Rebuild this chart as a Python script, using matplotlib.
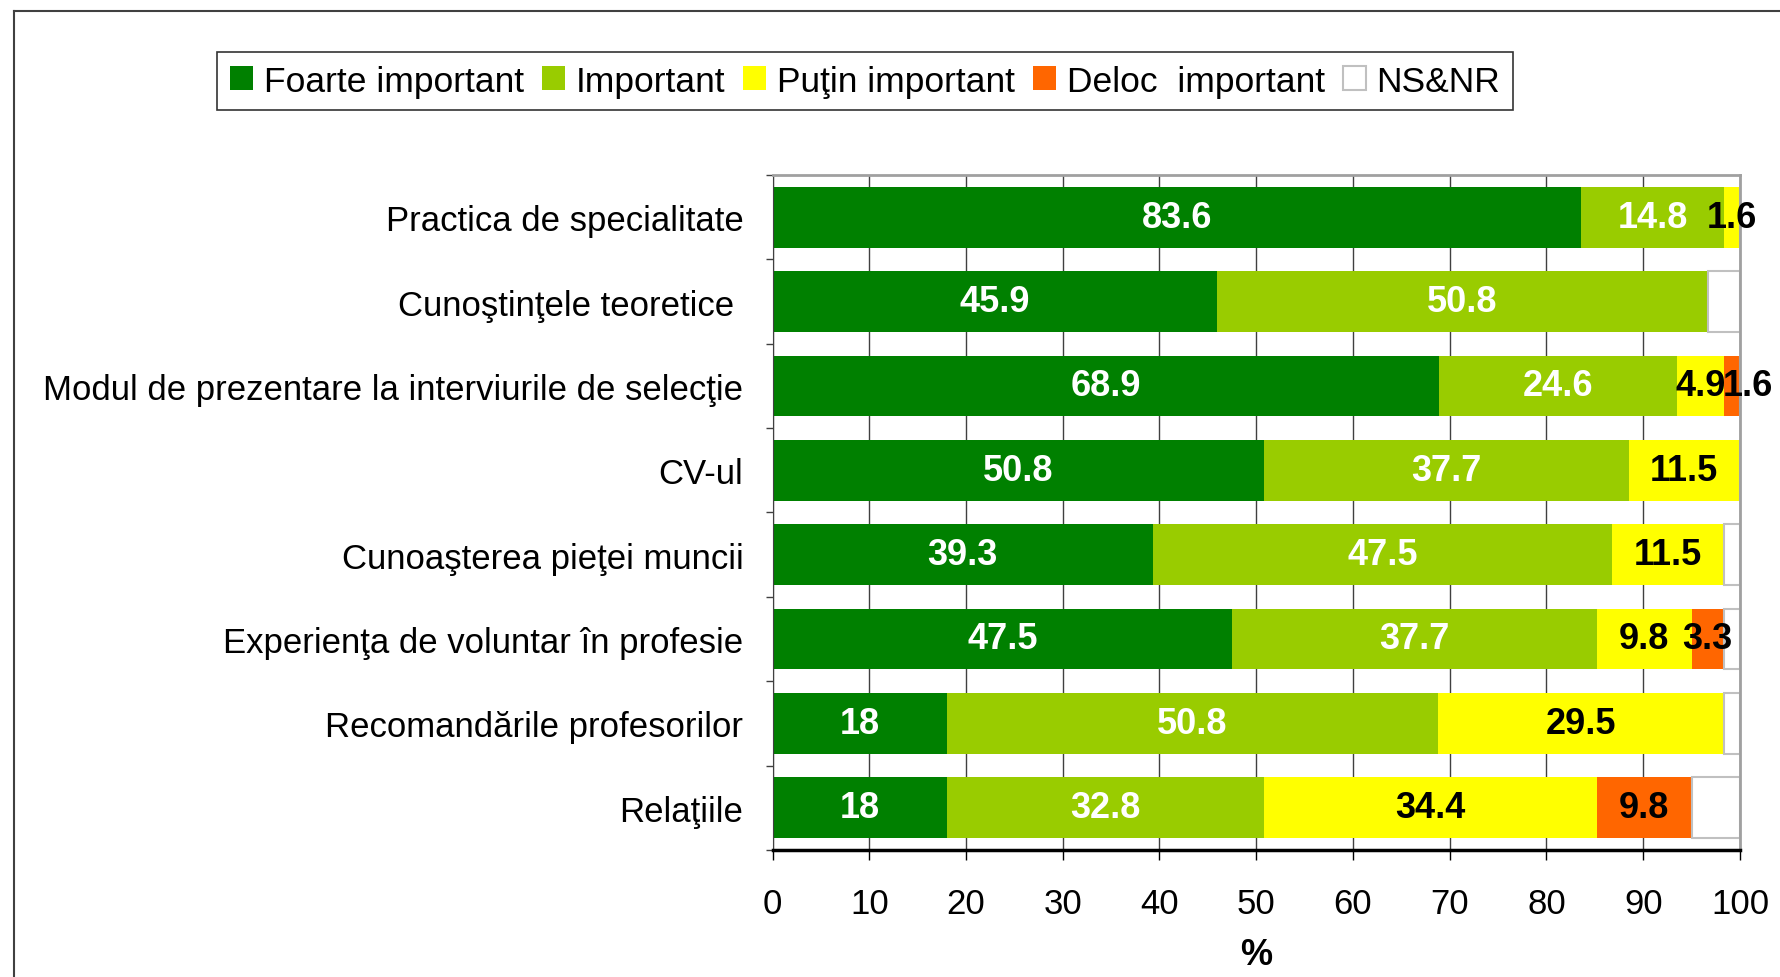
import numpy as np
import matplotlib.pyplot as plt
from matplotlib.lines import Line2D

plt.rcParams['font.family'] = ['Liberation Sans', 'DejaVu Sans']

cats = ['Practica de specialitate', 'Cunoştinţele teoretice ',
        'Modul de prezentare la interviurile de selecţie', 'CV-ul',
        'Cunoaşterea pieţei muncii', 'Experienţa de voluntar în profesie',
        'Recomandările profesorilor', 'Relaţiile']
foarte = [83.6, 45.9, 68.9, 50.8, 39.3, 47.5, 18, 18]
important = [14.8, 50.8, 24.6, 37.7, 47.5, 37.7, 50.8, 32.8]
putin = [1.6, 0, 4.9, 11.5, 11.5, 9.8, 29.5, 34.4]
deloc = [0, 0, 1.6, 0, 0, 3.3, 0, 9.8]
nsnr = [0, 3.3, 0, 0, 1.7, 1.7, 1.7, 5.0]

series = [foarte, important, putin, deloc, nsnr]
names = ['Foarte important', 'Important', 'Puţin important', 'Deloc  important', 'NS&NR']
colors = ['#008000', '#99CC00', '#FFFF00', '#FF6600', 'white']
txtcol = ['white', 'white', 'black', 'black', None]

fig = plt.figure(figsize=(17.8, 9.78), dpi=100)
ax = fig.add_axes([0.434, 0.130, 0.5435, 0.690])

y = np.arange(len(cats))
left = np.zeros(len(cats))
prev = np.full(len(cats), 100.0)
handles = []
for i, vals in enumerate(series):
    vals = np.array(vals, dtype=float)
    if i == 4:
        b = ax.barh(y, vals, left=left, height=0.72, color=colors[i],
                    edgecolor='#c0c0c0', linewidth=1.5, zorder=2)
    else:
        b = ax.barh(y, vals, left=left, height=0.72, color=colors[i],
                    linewidth=0, zorder=2)
    handles.append(b)
    if txtcol[i] is not None:
        for k in range(len(cats)):
            if vals[k] > 0:
                # small label squeezed after another small one gets nudged right
                dx = 11 if (vals[k] < 2 and prev[k] < 6) else 0
                ax.annotate('%g' % vals[k], (left[k] + vals[k] / 2, y[k]),
                            xytext=(dx, 0), textcoords='offset points',
                            ha='center', va='center', fontsize=26,
                            fontweight='bold', color=txtcol[i], zorder=3)
    prev = np.where(vals > 0, vals, prev)
    left += vals

ax.set_xlim(0, 100)
ax.set_ylim(7.5, -0.5)
ax.set_xticks(np.arange(0, 101, 10))
ax.set_yticks(y, cats)
ax.set_yticks(np.arange(-0.5, 8, 1), minor=True)
ax.tick_params(axis='y', which='major', length=0, pad=21, labelsize=25)
ax.tick_params(axis='y', which='minor', length=5, width=1, color='#404040')
ax.tick_params(axis='x', length=7, width=1, pad=20, labelsize=25)

ax.grid(axis='x', color='#404040', linewidth=1, zorder=0)
ax.set_axisbelow(True)
ax.spines['top'].set_color('#a0a0a0')
ax.spines['right'].set_color('#a0a0a0')
ax.spines['right'].set_linewidth(2)
ax.spines['top'].set_linewidth(2)
ax.spines['left'].set_color('#404040')
ax.spines['bottom'].set_linewidth(2.5)

ax.set_xlabel('%', fontsize=26, fontweight='bold', labelpad=12)

leg = fig.legend(handles, names, loc='center', bbox_to_anchor=(0.486, 0.916),
                 ncol=5, fontsize=25.5, frameon=True, fancybox=False,
                 edgecolor='black', handlelength=0.66, handleheight=0.66,
                 handletextpad=0.3, columnspacing=0.5, borderpad=0.35)
leg.get_frame().set_linewidth(1.2)

# outer frame
fig.add_artist(Line2D([0.008, 0.008], [0, 0.988], color='#404040', lw=1.5))
fig.add_artist(Line2D([0.008, 1], [0.988, 0.988], color='#404040', lw=1.5))

fig.savefig('out.png', dpi=100)
